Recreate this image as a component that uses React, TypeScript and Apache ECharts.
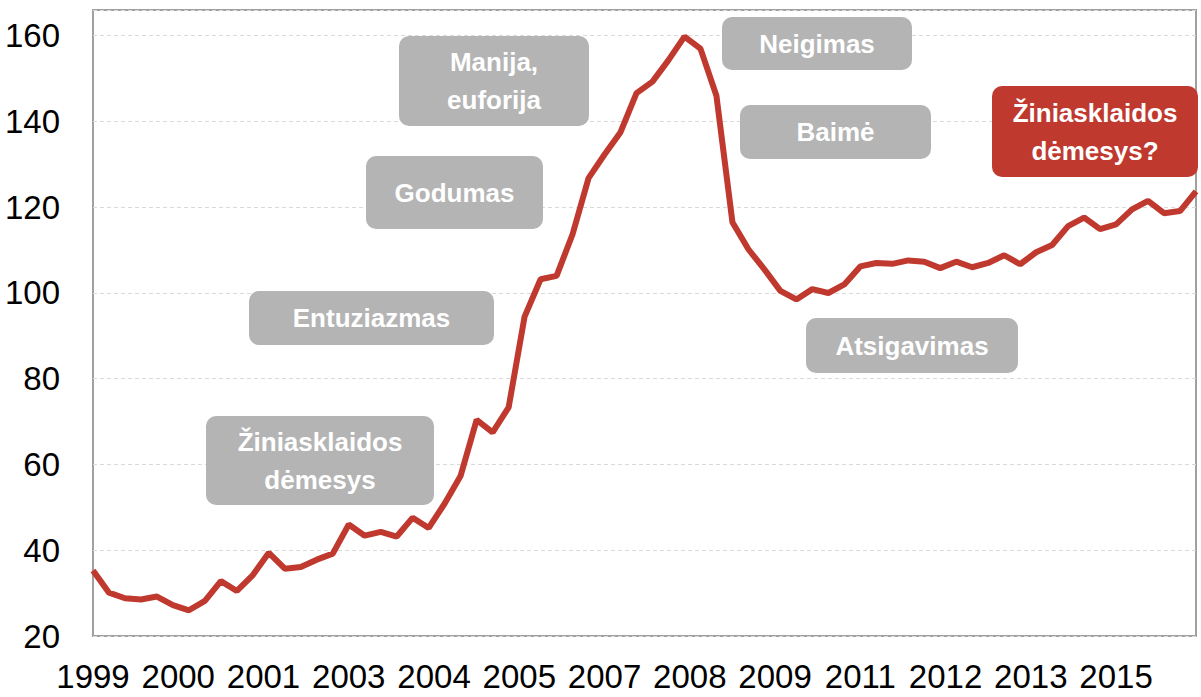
import React, { useEffect, useRef } from "react";
import * as echarts from "echarts";

// Quarterly index values, 1999 Q1 .. 2016 Q2
const startYear = 1999;
const monthsPerPoint = 3;
const indexValues: number[] = [
  35.3, 30.1, 28.8, 28.5, 29.2, 27.2, 26.0, 28.2, 32.8, 30.5,
  34.2, 39.4, 35.7, 36.1, 37.8, 39.2, 46.0, 43.4, 44.3, 43.2,
  47.6, 45.2, 50.9, 57.4, 70.4, 67.5, 73.3, 94.5, 103.2, 104.0,
  113.7, 126.8, 132.3, 137.5, 146.6, 149.3, 154.3, 159.8, 157.0, 146.0,
  116.5, 110.2, 105.5, 100.5, 98.5, 100.9, 100.0, 102.0, 106.2, 107.0,
  106.8, 107.6, 107.3, 105.8, 107.3, 106.0, 107.0, 108.8, 106.7, 109.5,
  111.2, 115.6, 117.6, 114.9, 116.0, 119.5, 121.5, 118.6, 119.1, 123.7,
];
const xLabelStepMonths = 16;
const yTicks = { min: 20, max: 166, interval: 20 };

type Note = { text: string; x: number; y: number; w: number; h: number; red?: boolean };
const notes: Note[] = [
  { text: "Manija,\neuforija", x: 399, y: 36, w: 190, h: 90 },
  { text: "Godumas", x: 366, y: 156, w: 177, h: 73 },
  { text: "Entuziazmas", x: 249, y: 291, w: 245, h: 54 },
  { text: "Žiniasklaidos\ndėmesys", x: 206, y: 416, w: 228, h: 89 },
  { text: "Neigimas", x: 722, y: 17, w: 190, h: 53 },
  { text: "Baimė", x: 740, y: 105, w: 191, h: 54 },
  { text: "Atsigavimas", x: 806, y: 318, w: 212, h: 55 },
  { text: "Žiniasklaidos\ndėmesys?", x: 992, y: 86, w: 206, h: 91, red: true },
];

const LINE_RED = "#c0392f";
const BOX_GRAY = "#b4b4b4";
const AXIS_FONT = '"Liberation Sans Narrow", "Arial Narrow", "Liberation Sans", Arial, sans-serif';

export default function App() {
  const ref = useRef<HTMLDivElement>(null);
  useEffect(() => {
    if (!ref.current) return;
    const chart = echarts.init(ref.current, undefined, { renderer: "svg" });
    const data = indexValues.map((v, i) => [i * monthsPerPoint, v]);
    const graphic: any[] = [];
    notes.forEach((n) => {
      graphic.push({
        type: "rect",
        shape: { x: n.x, y: n.y, width: n.w, height: n.h, r: 10 },
        style: { fill: n.red ? "#c0392f" : BOX_GRAY },
        z: 100,
      });
      graphic.push({
        type: "text",
        x: n.x + n.w / 2,
        y: n.y + n.h / 2,
        style: {
          text: n.text,
          fill: "#ffffff",
          font: 'bold 26px "Liberation Sans", Arial, sans-serif',
          align: "center",
          verticalAlign: "middle",
          lineHeight: 38,
        },
        z: 101,
      });
    });
    chart.setOption({
      animation: false,
      backgroundColor: "#ffffff",
      grid: {
        left: 93,
        right: 5,
        top: 10,
        bottom: 61,
        show: true,
        borderColor: "#a0a0a0",
        borderWidth: 2,
        backgroundColor: "transparent",
      },
      xAxis: {
        type: "value",
        min: 0,
        max: (indexValues.length - 1) * monthsPerPoint,
        interval: xLabelStepMonths,
        axisLine: { show: false },
        axisTick: { show: false },
        splitLine: { show: false },
        axisLabel: {
          margin: 24,
          fontSize: 33,
          fontFamily: AXIS_FONT,
          color: "#000",
          showMaxLabel: false,
          formatter: (v: number) =>
            v % xLabelStepMonths === 0 ? String(startYear + Math.floor(v / 12)) : "",
        },
      },
      yAxis: {
        type: "value",
        min: yTicks.min,
        max: yTicks.max,
        interval: yTicks.interval,
        axisLine: { show: false },
        axisTick: { show: false },
        splitLine: { show: true, lineStyle: { color: "#d9d9d9", type: [4, 3], width: 1 } },
        axisLabel: {
          margin: 33,
          fontSize: 33,
          fontFamily: AXIS_FONT,
          color: "#000",
          formatter: (v: number) => (v % yTicks.interval === 0 ? String(v) : ""),
        },
      },
      series: [
        {
          type: "line",
          data,
          symbol: "none",
          lineStyle: { color: LINE_RED, width: 6 },
          z: 5,
        },
      ],
      graphic,
    });
    return () => chart.dispose();
  }, []);
  return (
    <div
      ref={ref}
      style={{ position: "absolute", left: 0, top: 0, width: 1201, height: 697 }}
    />
  );
}
